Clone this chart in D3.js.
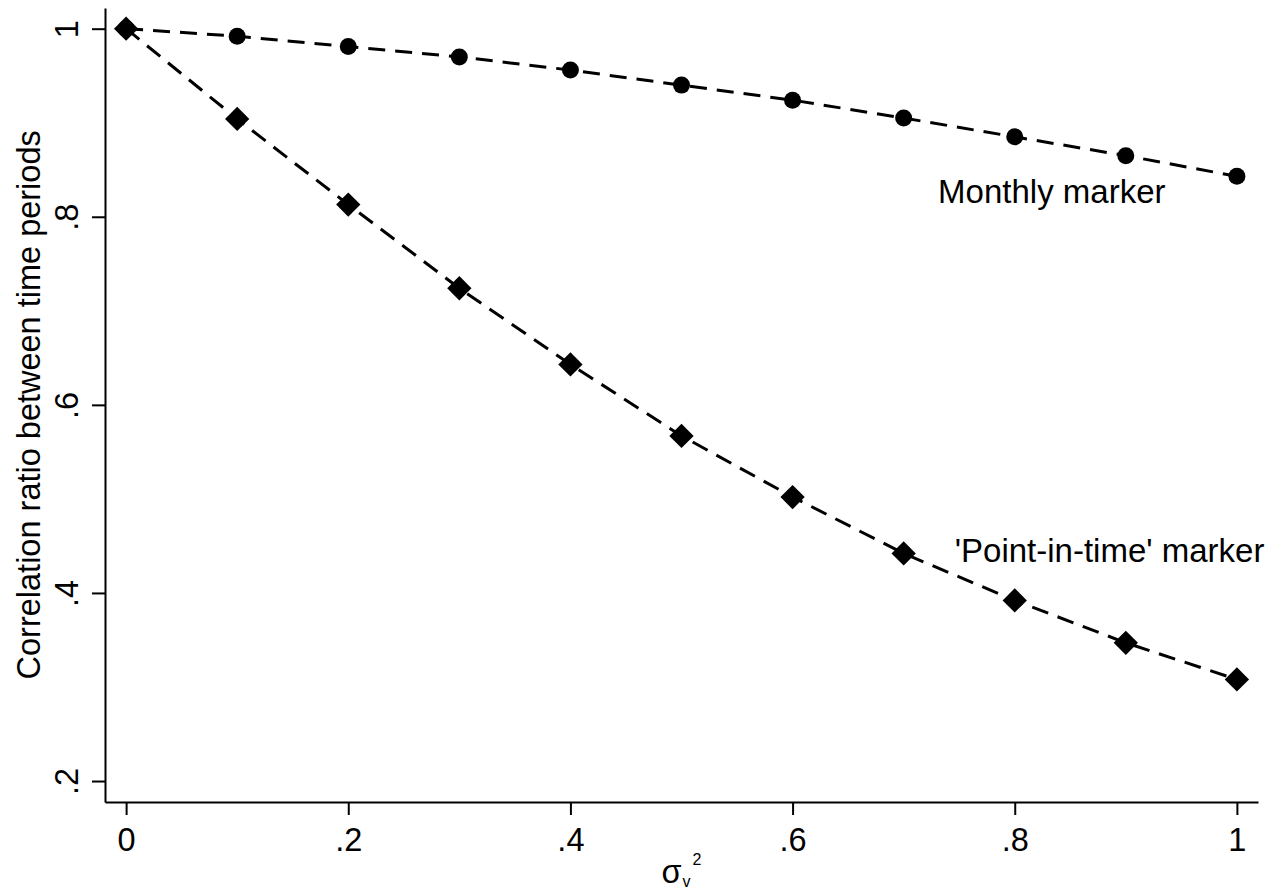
<!DOCTYPE html>
<html>
<head>
<meta charset="utf-8">
<script src="https://cdn.jsdelivr.net/npm/d3@7"></script>
<style>
  html, body { margin: 0; padding: 0; background: #fff; }
  svg { display: block; }
  text { font-family: "Liberation Sans", Arial, Helvetica, sans-serif; fill: #000; }
</style>
</head>
<body>
<svg id="chart" width="1273" height="892"></svg>
<script>
// ---- data ----
const xValues = [0, 0.1, 0.2, 0.3, 0.4, 0.5, 0.6, 0.7, 0.8, 0.9, 1.0];
const monthly = [1.000, 0.992, 0.981, 0.970, 0.956, 0.940, 0.924, 0.905, 0.885, 0.865, 0.843];
const pointInTime = [1.000, 0.904, 0.813, 0.724, 0.643, 0.567, 0.502, 0.442, 0.392, 0.347, 0.308];
const xTicks = [0, 0.2, 0.4, 0.6, 0.8, 1.0];
const xTickLabels = ["0", ".2", ".4", ".6", ".8", "1"];
const yTicks = [0.2, 0.4, 0.6, 0.8, 1.0];
const yTickLabels = [".2", ".4", ".6", ".8", "1"];
const yTitle = "Correlation ratio between time periods";
const seriesLabels = ["Monthly marker", "'Point-in-time' marker"];
const labelPos = [[0.731, 0.815], [0.746, 0.4333]]; // data coords (x, y) of label start/baseline

// ---- layout ----
const svg = d3.select("#chart");
const x = d3.scaleLinear().domain([-0.019, 1.019]).range([105, 1258]);
const y = d3.scaleLinear().domain([0.1777, 1.022]).range([802, 8]);
const FS = 32.5;

// axes
const xAxis = svg.append("g").attr("transform", `translate(0,${y(0.1777)})`)
  .call(d3.axisBottom(x).tickValues(xTicks).tickSize(13).tickSizeOuter(0)
        .tickFormat((d, i) => xTickLabels[i]));
const yAxis = svg.append("g").attr("transform", `translate(${x(-0.019)},0)`)
  .call(d3.axisLeft(y).tickValues(yTicks).tickSize(13).tickSizeOuter(0)
        .tickFormat((d, i) => yTickLabels[i]));

[xAxis, yAxis].forEach(g => {
  g.selectAll("path.domain").attr("stroke", "#000").attr("stroke-width", 2);
  g.selectAll(".tick line").attr("stroke", "#000").attr("stroke-width", 2);
  g.selectAll(".tick text").attr("font-size", FS)
    .attr("font-family", "'Liberation Sans', Arial, sans-serif").attr("fill", "#000");
});
xAxis.selectAll(".tick text").attr("y", 49).attr("dy", 0);
yAxis.selectAll(".tick text")
  .attr("transform", "rotate(-90)")
  .attr("x", 0).attr("y", -27).attr("dy", 0)
  .attr("text-anchor", "middle");

// y title
svg.append("text")
  .attr("transform", `translate(40,${(y(0.2) + y(1)) / 2}) rotate(-90)`)
  .attr("text-anchor", "middle").attr("font-size", FS)
  .text(yTitle);

// x title: sigma_v^2
const xt = svg.append("text")
  .attr("x", (x(0) + x(1)) / 2 - 20).attr("y", 883)
  .attr("font-size", FS);
xt.append("tspan").text("σ");
xt.append("tspan").attr("font-size", 16).attr("dy", 4).attr("dx", 1).text("v");
xt.append("tspan").attr("font-size", 16).attr("dy", -22).attr("dx", 2).text("2");

// lines
const line = d3.line().x((d, i) => x(xValues[i])).y(d => y(d));
const series = [monthly, pointInTime];
series.forEach(s => {
  svg.append("path").datum(s)
    .attr("d", line)
    .attr("fill", "none").attr("stroke", "#000")
    .attr("stroke-width", 3)
    .attr("stroke-dasharray", "17,10");
});

// markers
svg.append("g").selectAll("circle").data(monthly).join("circle")
  .attr("cx", (d, i) => x(xValues[i])).attr("cy", d => y(d))
  .attr("r", 8.5).attr("fill", "#000");

const diamond = d3.symbol().type(d3.symbolSquare).size(295);
svg.append("g").selectAll("path").data(pointInTime).join("path")
  .attr("d", diamond)
  .attr("transform", (d, i) => `translate(${x(xValues[i])},${y(d)}) rotate(45)`)
  .attr("fill", "#000");

// series labels
seriesLabels.forEach((t, i) => {
  svg.append("text")
    .attr("x", x(labelPos[i][0])).attr("y", y(labelPos[i][1]))
    .attr("font-size", 33)
    .text(t);
});
</script>
</body>
</html>
